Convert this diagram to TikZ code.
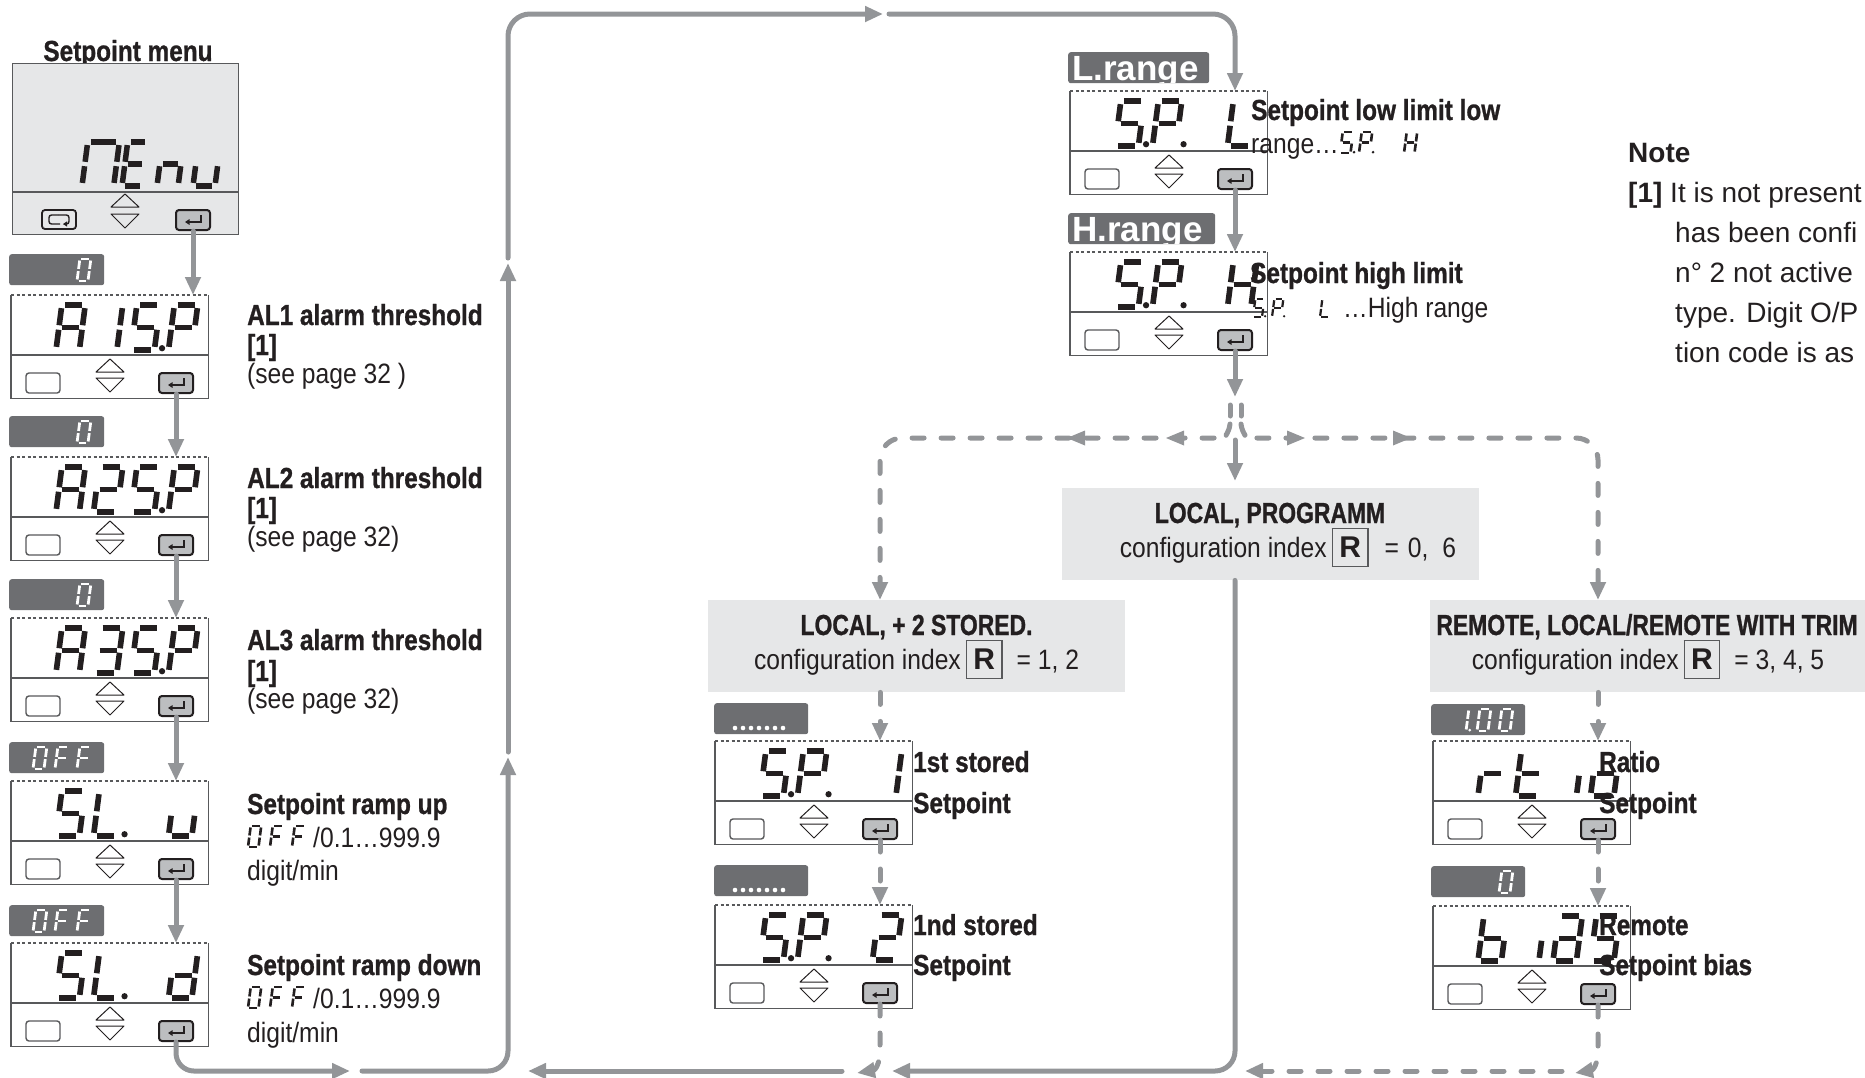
\documentclass[tikz,border=0pt]{standalone}
\usepackage{fontspec}
\setmainfont{Liberation Sans}
\newfontfamily\condbold[FakeStretch=0.84,BoldFeatures={FakeBold=0.9}]{Liberation Sans}
\newfontfamily\condcaps[FakeStretch=0.79,BoldFeatures={FakeBold=0.9}]{Liberation Sans}
\newfontfamily\condreg[FakeStretch=0.88]{Liberation Sans}
\usetikzlibrary{arrows.meta,calc}

\definecolor{flow}{HTML}{939598}
\definecolor{tabgray}{HTML}{6D6E71}
\definecolor{panel}{HTML}{E6E7E8}
\definecolor{ink}{HTML}{231F20}
\definecolor{frame}{HTML}{58595B}
\definecolor{keygray}{HTML}{BCBEC0}

\newcommand\fB{\condbold\bfseries\fontsize{29}{34}\selectfont}
\newcommand\fC{\condcaps\bfseries\fontsize{29}{34}\selectfont}
\newcommand\fR{\condreg\fontsize{28}{33}\selectfont}
\newcommand\fN{\fontsize{28}{34}\selectfont}
\newcommand\fL{\bfseries\fontsize{35}{40}\selectfont}

% seven-segment glyphs: x (bottom left), y (top), height, width ratio, segments
\def\ssdsl{0.13}
\newcommand\ssdseg[4]{\draw ({#1+\ssdsl*(1-(#2))},{#2}) -- ({#3+\ssdsl*(1-(#4))},{#4});}
\def\ssdXa{\ssdseg{0.07}{0}{\ssdw-0.07}{0}}
\def\ssdXb{\ssdseg{\ssdw}{0.07}{\ssdw}{0.45}}
\def\ssdXc{\ssdseg{\ssdw}{0.55}{\ssdw}{0.93}}
\def\ssdXd{\ssdseg{0.07}{1}{\ssdw-0.07}{1}}
\def\ssdXe{\ssdseg{0}{0.55}{0}{0.93}}
\def\ssdXf{\ssdseg{0}{0.07}{0}{0.45}}
\def\ssdXg{\ssdseg{0.07}{0.5}{\ssdw-0.07}{0.5}}
\def\ssdXp{\fill ({\ssdw+0.17},0.96) circle[radius=0.07];}
\newcommand\ssd[6][ink]{%
  \begin{scope}[shift={(#2,#3)},x=#4pt,y=-#4pt,line width=0.125*#4pt,color=#1,line cap=butt]
    \def\ssdw{#5}%
    \foreach \sg in {#6}{\csname ssdX\sg\endcsname}%
  \end{scope}}

% keys of an operator panel
\newcommand\enterkey[2]{%
  \draw[ink, line width=2pt, fill=keygray, rounded corners=3pt] (#1,#2) rectangle (#1+34,#2+20);
  \draw[ink, line width=1.5pt, -{Triangle[length=4.5pt,width=5.5pt]}] (#1+25,#2+5) -- (#1+25,#2+12) -- (#1+9,#2+12);}

% one display unit: name, left, top
\newcommand\unitbox[3]{%
  \node[unitshape] (#1) at (#2,#3) {};
  \draw[framepen] (#1.north west) -- (#1.south west) -- (#1.south east) -- (#1.north east);
  \draw[framepen, line width=1.1pt, dash pattern=on 3pt off 2.5pt] (#1.north west) -- (#1.north east);
  \draw[framepen] (#2,#3+60) -- (#2+197,#3+60);
  \draw[framepen, fill=white, rounded corners=3pt] (#2+15,#3+78) rectangle (#2+49,#3+98);
  \draw[ink, line width=1pt, line join=round] (#2+85,#3+77) -- (#2+99,#3+64) -- (#2+113,#3+77) -- cycle;
  \draw[ink, line width=1pt, line join=round] (#2+85,#3+83) -- (#2+99,#3+97) -- (#2+113,#3+83) -- cycle;
  \enterkey{#2+148}{#3+78}%
  \coordinate (#1top) at (#2+165,#3);
  \coordinate (#1key) at (#2+165,#3+99);}

% value tab: name, left, top, width
\newcommand\valtab[4]{\node[valtabshape, minimum width=#4pt] (#1) at (#2,#3) {};}

\newcommand\cfgR{{\setlength\fboxrule{1.4pt}\setlength\fboxsep{0pt}\hspace{5pt}%
  \fcolorbox{frame}{panel}{\makebox[34pt]{\rule[-9pt]{0pt}{37pt}\normalfont\bfseries\fontsize{30}{30}\selectfont R}}}}

\newcommand\midtipL[2]{\fill[flow] (#1,#2) -- (#1+18,#2-7.5) -- (#1+18,#2+7.5) -- cycle;}
\newcommand\midtipR[2]{\fill[flow] (#1,#2) -- (#1-18,#2-7.5) -- (#1-18,#2+7.5) -- cycle;}

\tikzset{
  flowline/.style={draw=flow, line width=5pt, line cap=round},
  flowarrow/.style={flowline, -{Triangle[length=18pt,width=15pt]}},
  flowdash/.style={flowline, dash pattern=on 12pt off 17pt},
  flowdasharrow/.style={flowdash, -{Triangle[length=18pt,width=15pt]}},
  framepen/.style={draw=frame, line width=1.4pt},
  unitshape/.style={anchor=north west, fill=white, minimum width=197pt, minimum height=103pt},
  valtabshape/.style={anchor=north west, fill=tabgray, rounded corners=2.5pt, minimum height=31pt},
  panelbox/.style={anchor=north west, fill=panel},
  lbl/.style={anchor=base west},
}

\begin{document}
\begin{tikzpicture}[x=1pt,y=-1pt, every node/.style={inner sep=0pt, text=ink}]
\useasboundingbox (0,0) rectangle (1865,1077);
\clip (0,0) rectangle (1865,1077);

% ---------------- menu entry
\node[anchor=base, font=\fB] (menutitle) at (128,61) {Setpoint menu};
\node[draw=frame, line width=1.4pt, fill=panel, minimum width=226pt, minimum height=171pt, anchor=north west] (menu) at (12,63) {};
\draw[framepen] (12,192) -- (238,192);
\draw[ink, line width=1.8pt, rounded corners=3pt] (42,210) rectangle (76,229);
\draw[ink, line width=1.4pt, rounded corners=2.5pt] (58,215) -- (49,215) -- (49,224) -- (60,224);
\draw[ink, line width=1.4pt, rounded corners=2.5pt, -{Triangle[length=4pt,width=5pt]}] (58,215) -- (69,215) -- (69,224) -- (63,224);
\draw[ink, line width=1pt, line join=round] (111,207) -- (125,194) -- (139,207) -- cycle;
\draw[ink, line width=1pt, line join=round] (111,214) -- (125,228) -- (139,214) -- cycle;
\enterkey{176}{210}
\coordinate (menukey) at (193,231);
\ssd{82}{142}{44}{0.72}{a,b,c,e,f}
\ssd{122}{142}{44}{0.47}{a,d,e,f,g}
\ssd{157}{142}{44}{0.48}{c,e,g}
\ssd{193}{142}{44}{0.5}{c,d,e}

% ---------------- left column
\valtab{t1}{9}{254}{95}
\ssd[white]{77}{259}{22}{0.5}{a,b,c,d,e,f}
\unitbox{d1}{11}{295}
\ssd{56}{305}{45}{0.52}{a,b,c,e,f,g}
\ssd{93.5}{305}{45}{0.52}{b,c}
\ssd{131}{305}{45}{0.52}{a,f,g,c,d,p}
\ssd{168.5}{305}{45}{0.52}{a,b,e,f,g}

\valtab{t2}{9}{416}{95}
\ssd[white]{77}{421}{22}{0.5}{a,b,c,d,e,f}
\unitbox{d2}{11}{457}
\ssd{56}{467}{45}{0.52}{a,b,c,e,f,g}
\ssd{93.5}{467}{45}{0.52}{a,b,g,e,d}
\ssd{131}{467}{45}{0.52}{a,f,g,c,d,p}
\ssd{168.5}{467}{45}{0.52}{a,b,e,f,g}

\valtab{t3}{9}{579}{95}
\ssd[white]{77}{584}{22}{0.5}{a,b,c,d,e,f}
\unitbox{d3}{11}{618}
\ssd{56}{628}{45}{0.52}{a,b,c,e,f,g}
\ssd{93.5}{628}{45}{0.52}{a,b,g,c,d}
\ssd{131}{628}{45}{0.52}{a,f,g,c,d,p}
\ssd{168.5}{628}{45}{0.52}{a,b,e,f,g}

\valtab{t4}{9}{742}{95}
\ssd[white]{33}{747}{22}{0.5}{a,b,c,d,e,f}
\ssd[white]{55}{747}{22}{0.5}{a,e,f,g}
\ssd[white]{77}{747}{22}{0.5}{a,e,f,g}
\unitbox{d4}{11}{781}
\ssd{56}{791}{45}{0.52}{a,f,g,c,d}
\ssd{93.5}{791}{45}{0.52}{f,e,d,p}
\ssd{168.5}{791}{45}{0.52}{c,d,e}

\valtab{t5}{9}{905}{95}
\ssd[white]{33}{910}{22}{0.5}{a,b,c,d,e,f}
\ssd[white]{55}{910}{22}{0.5}{a,e,f,g}
\ssd[white]{77}{910}{22}{0.5}{a,e,f,g}
\unitbox{d5}{11}{943}
\ssd{56}{953}{45}{0.52}{a,f,g,c,d}
\ssd{93.5}{953}{45}{0.52}{f,e,d,p}
\ssd{168.5}{953}{45}{0.52}{b,c,d,e,g}

\draw[flowarrow] (menukey) -- (menukey |- d1.north);
\draw[flowarrow] (d1key) -- (d2top);
\draw[flowarrow] (d2key) -- (d3top);
\draw[flowarrow] (d3key) -- (d4top);
\draw[flowarrow] (d4key) -- (d5top);

% labels of the left column
\node[lbl, font=\fB] (al1) at (247,325) {AL1 alarm threshold};
\node[lbl, font=\fB] (al1n) at (247,355) {[1]};
\node[lbl, font=\fR] (al1p) at (247,383) {(see page 32 )};
\node[lbl, font=\fB] (al2) at (247,488) {AL2 alarm threshold};
\node[lbl, font=\fB] (al2n) at (247,518) {[1]};
\node[lbl, font=\fR] (al2p) at (247,546) {(see page 32)};
\node[lbl, font=\fB] (al3) at (247,650) {AL3 alarm threshold};
\node[lbl, font=\fB] (al3n) at (247,681) {[1]};
\node[lbl, font=\fR] (al3p) at (247,708) {(see page 32)};
\node[lbl, font=\fB] (rup) at (247,814) {Setpoint ramp up};
\ssd{248}{826}{21}{0.5}{a,b,c,d,e,f}
\ssd{270}{826}{21}{0.5}{a,e,f,g}
\ssd{292}{826}{21}{0.5}{a,e,f,g}
\node[lbl, font=\fR] (rupr) at (313,847) {/0.1…999.9};
\node[lbl, font=\fR] (rupu) at (247,880) {digit/min};
\node[lbl, font=\fB] (rdn) at (247,975) {Setpoint ramp down};
\ssd{248}{987}{21}{0.5}{a,b,c,d,e,f}
\ssd{270}{987}{21}{0.5}{a,e,f,g}
\ssd{292}{987}{21}{0.5}{a,e,f,g}
\node[lbl, font=\fR] (rdnr) at (313,1008) {/0.1…999.9};
\node[lbl, font=\fR] (rdnu) at (247,1042) {digit/min};

% ---------------- range limits
\valtab{lr}{1068}{52}{141}
\begin{scope}
  \clip (1068,52) rectangle (1209,82);
  \node[anchor=base west, text=white, font=\fL] (lrtext) at (1072,80) {L.range};
\end{scope}
\valtab{hr}{1068}{213}{147}
\begin{scope}
  \clip (1068,213) rectangle (1215,243);
  \node[anchor=base west, text=white, font=\fL] (hrtext) at (1072,241) {H.range};
\end{scope}
\unitbox{dL}{1070}{91}
\ssd{1115}{101}{45}{0.52}{a,f,g,c,d,p}
\ssd{1152.5}{101}{45}{0.52}{a,b,e,f,g,p}
\ssd{1227.5}{101}{45}{0.52}{f,e,d}
\unitbox{dH}{1070}{252}
\ssd{1115}{262}{45}{0.52}{a,f,g,c,d,p}
\ssd{1152.5}{262}{45}{0.52}{a,b,e,f,g,p}
\ssd{1227.5}{262}{45}{0.52}{b,c,e,f,g}

\node[lbl, font=\fB] (lowt) at (1251,120) {Setpoint low limit low};
\node[lbl, font=\fR] (lowr) at (1251,153) {range…};
\ssd{1340}{132}{21}{0.5}{a,f,g,c,d,p}
\ssd{1359}{132}{21}{0.5}{a,b,e,f,g,p}
\ssd{1404}{132}{21}{0.5}{b,c,e,f,g}
\node[lbl, font=\fB] (hight) at (1250,283) {Setpoint high limit};
\ssd{1253}{299}{18}{0.5}{a,f,g,c,d,p}
\ssd{1272}{299}{18}{0.5}{a,b,e,f,g,p}
\ssd{1320}{299}{18}{0.5}{d,e,f}
\node[lbl, font=\fR] (highr) at (1343,317) {…High range};

\draw[flowarrow] (dLkey) -- (dHtop);

% ---------------- configuration panels
\node[panelbox, minimum width=417pt, minimum height=92pt] (lp) at (1062,488) {};
\node[anchor=base, font=\fC] (lpt) at (1270,523) {LOCAL, PROGRAMM};
\node[anchor=base, font=\fR] (lpc) at (1288,557) {configuration index\cfgR\hspace{16pt}=\hspace{9pt}0,\hspace{14pt}6};
\node[panelbox, minimum width=417pt, minimum height=92pt] (l2) at (708,600) {};
\node[anchor=base, font=\fC] (l2t) at (916.5,635) {LOCAL, + 2 STORED.};
\node[anchor=base, font=\fR] (l2c) at (916.5,669) {configuration index\cfgR\hspace{14pt}= 1, 2};
\node[panelbox, minimum width=440pt, minimum height=92pt] (rm) at (1430,600) {};
\node[anchor=base, font=\fC] (rmt) at (1647,635) {REMOTE, LOCAL/REMOTE WITH TRIM};
\node[anchor=base, font=\fR] (rmc) at (1648,669) {configuration index\cfgR\hspace{14pt}= 3, 4, 5};

% ---------------- stored setpoints
\valtab{s1tab}{714}{703}{94}
\foreach \k in {0,...,6} \fill[white] (735+8*\k,728) circle[radius=2.3pt];
\unitbox{s1}{715}{741}
\ssd{760}{751}{45}{0.52}{a,f,g,c,d,p}
\ssd{797.5}{751}{45}{0.52}{a,b,e,f,g,p}
\ssd{872.5}{751}{45}{0.52}{b,c}
\valtab{s2tab}{714}{865}{94}
\foreach \k in {0,...,6} \fill[white] (735+8*\k,890) circle[radius=2.3pt];
\unitbox{s2}{715}{905}
\ssd{760}{915}{45}{0.52}{a,f,g,c,d,p}
\ssd{797.5}{915}{45}{0.52}{a,b,e,f,g,p}
\ssd{872.5}{915}{45}{0.52}{a,b,g,e,d}
\node[lbl, font=\fB] (s1a) at (913,772) {1st stored};
\node[lbl, font=\fB] (s1b) at (913,813) {Setpoint};
\node[lbl, font=\fB] (s2a) at (913,935) {1nd stored};
\node[lbl, font=\fB] (s2b) at (913,975) {Setpoint};

% ---------------- remote setpoint
\valtab{r1tab}{1431}{704}{94}
\ssd[white]{1455}{709}{22}{0.5}{b,c,p}
\ssd[white]{1477}{709}{22}{0.5}{a,b,c,d,e,f}
\ssd[white]{1499}{709}{22}{0.5}{a,b,c,d,e,f}
\unitbox{r1}{1433}{741}
\ssd{1478}{751}{45}{0.52}{e,g}
\ssd{1515.5}{751}{45}{0.52}{d,e,f,g}
\ssd{1553}{751}{45}{0.52}{c}
\ssd{1590.5}{751}{45}{0.52}{c,d,e,g}
\valtab{r2tab}{1431}{866}{94}
\ssd[white]{1499}{871}{22}{0.5}{a,b,c,d,e,f}
\unitbox{r2}{1433}{906}
\ssd{1478}{916}{45}{0.52}{c,d,e,f,g}
\ssd{1515.5}{916}{45}{0.52}{c}
\ssd{1553}{916}{45}{0.52}{a,b,c,d,e,g}
\ssd{1590.5}{916}{45}{0.52}{a,f,g,c,d}
\node[lbl, font=\fB] (r1a) at (1599,772) {Ratio};
\node[lbl, font=\fB] (r1b) at (1599,813) {Setpoint};
\node[lbl, font=\fB] (r2a) at (1599,935) {Remote};
\node[lbl, font=\fB] (r2b) at (1599,975) {Setpoint bias};

% ---------------- note
\node[lbl, font=\fN\bfseries] (noteh) at (1628,162) {Note};
\node[lbl, font=\fN] (note1) at (1628,202) {\textbf{[1]} It is not present};
\node[lbl, font=\fN] (note2) at (1675,242) {has been confi};
\node[lbl, font=\fN] (note3) at (1675,282) {n° 2 not active};
\node[lbl, font=\fN] (note4) at (1675,322) {type. Digit O/P};
\node[lbl, font=\fN] (note5) at (1675,362) {tion code is as};

% ---------------- connectors
\coordinate (loopA) at (350,1071);
\coordinate (loopB) at (362,1071);
\coordinate (loopC) at (508,757);
\coordinate (loopD) at (508,752);
\coordinate (loopE) at (508,263);
\coordinate (loopF) at (508,258);
\coordinate (topA) at (883,14);
\coordinate (topB) at (889,14);
\draw[flowarrow, rounded corners=18pt] (d5key) |- (loopA);
\draw[flowarrow, rounded corners=20pt] (loopB) -| (loopC);
\draw[flowarrow] (loopD) -- (loopE);
\draw[flowarrow, rounded corners=22pt] (loopF) |- (topA);
\draw[flowarrow, rounded corners=22pt] (topB) -| (dLtop);

\coordinate (split) at (1235,397);
\coordinate (jl) at (1230,424);
\coordinate (jr) at (1241,424);
\coordinate (jc) at (1235,440);
\draw[flowarrow] (dHkey) -- (split);
\draw[flowline] (1230,405) -- (1230,416);
\draw[flowline] (1241,405) -- (1241,416);
\draw[flowdasharrow, rounded corners=22pt] (jl) .. controls (1229,434) and (1222,438) .. (1205,438) -| (l2.north -| s1top);
\draw[flowdasharrow, rounded corners=22pt] (jr) .. controls (1242,434) and (1249,438) .. (1266,438) -| (rm.north -| r1top);
\midtipL{1166}{438}
\midtipL{1067}{438}
\midtipR{1305}{438}
\midtipR{1411}{438}
\draw[flowarrow] (jc) -- ($(lp.north -| jc)+(0,-7)$);

\coordinate (bC) at (892,1071);
\coordinate (bD) at (842,1071);
\coordinate (bE) at (528,1071);
\coordinate (bF) at (1562,1071);
\coordinate (bG) at (1245,1071);
\draw[flowarrow, rounded corners=20pt] (lp.south -| jc) |- (bC);
\draw[flowarrow] (bD) -- (bE);

\draw[flowdasharrow] (l2.south -| s1top) -- (s1top);
\draw[flowdasharrow] (s1key) -- (s2top);
\draw[flowdasharrow] (s2key) -- (880,1050) .. controls (880,1064) and (875,1070) .. (857,1073);
\draw[flowdasharrow] (rm.south -| r1top) -- (r1top);
\draw[flowdasharrow] (r1key) -- (r2top);
\draw[flowdasharrow] (r2key) -- (1598,1050) .. controls (1598,1064) and (1593,1070) .. (1575,1073);
\draw[flowdasharrow] (bF) -- (bG);
\end{tikzpicture}
\end{document}
